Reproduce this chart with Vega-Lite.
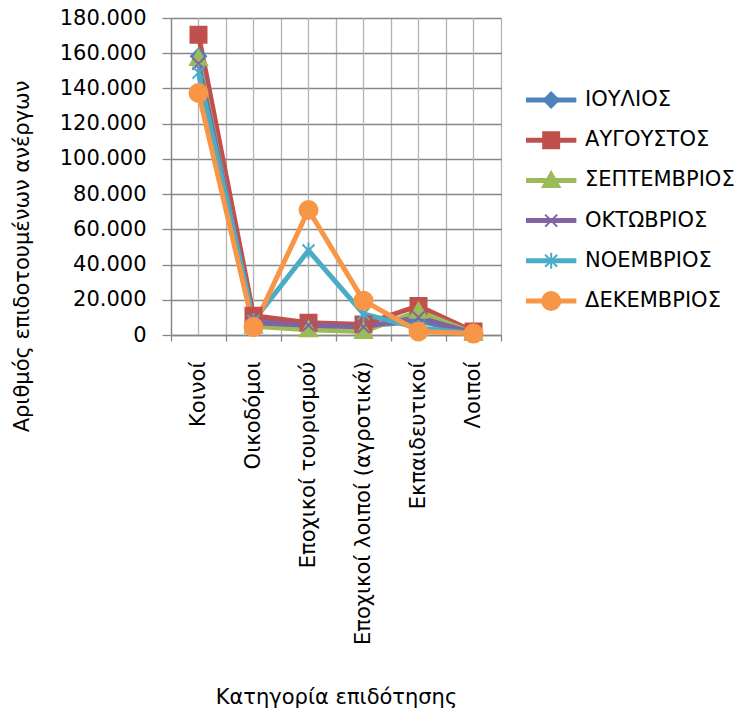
{
  "$schema": "https://vega.github.io/schema/vega-lite/v6.json",
  "background": "white",
  "padding": {"left": 11, "top": 7, "right": 0, "bottom": 0},
  "config": {
    "locale": {"number": {"decimal": ",", "thousands": ".", "grouping": [3], "currency": ["", " €"]}},
    "font": "DejaVu Sans",
    "view": {"stroke": null},
    "concat": {"spacing": 21}
  },
  "datasets": {
    "series": [
      {"category": "Κοινοί", "month": "ΙΟΥΛΙΟΣ", "value": 158300},
      {"category": "Οικοδόμοι", "month": "ΙΟΥΛΙΟΣ", "value": 10000},
      {"category": "Εποχικοί τουρισμού", "month": "ΙΟΥΛΙΟΣ", "value": 6000},
      {"category": "Εποχικοί λοιποί (αγροτικά)", "month": "ΙΟΥΛΙΟΣ", "value": 5000},
      {"category": "Εκπαιδευτικοί", "month": "ΙΟΥΛΙΟΣ", "value": 8000},
      {"category": "Λοιποί", "month": "ΙΟΥΛΙΟΣ", "value": 1000},
      {"category": "Κοινοί", "month": "ΑΥΓΟΥΣΤΟΣ", "value": 170500},
      {"category": "Οικοδόμοι", "month": "ΑΥΓΟΥΣΤΟΣ", "value": 11000},
      {"category": "Εποχικοί τουρισμού", "month": "ΑΥΓΟΥΣΤΟΣ", "value": 7000},
      {"category": "Εποχικοί λοιποί (αγροτικά)", "month": "ΑΥΓΟΥΣΤΟΣ", "value": 6000},
      {"category": "Εκπαιδευτικοί", "month": "ΑΥΓΟΥΣΤΟΣ", "value": 16500},
      {"category": "Λοιποί", "month": "ΑΥΓΟΥΣΤΟΣ", "value": 2000},
      {"category": "Κοινοί", "month": "ΣΕΠΤΕΜΒΡΙΟΣ", "value": 157000},
      {"category": "Οικοδόμοι", "month": "ΣΕΠΤΕΜΒΡΙΟΣ", "value": 5000},
      {"category": "Εποχικοί τουρισμού", "month": "ΣΕΠΤΕΜΒΡΙΟΣ", "value": 3000},
      {"category": "Εποχικοί λοιποί (αγροτικά)", "month": "ΣΕΠΤΕΜΒΡΙΟΣ", "value": 2000},
      {"category": "Εκπαιδευτικοί", "month": "ΣΕΠΤΕΜΒΡΙΟΣ", "value": 13500},
      {"category": "Λοιποί", "month": "ΣΕΠΤΕΜΒΡΙΟΣ", "value": 1000},
      {"category": "Κοινοί", "month": "ΟΚΤΩΒΡΙΟΣ", "value": 154000},
      {"category": "Οικοδόμοι", "month": "ΟΚΤΩΒΡΙΟΣ", "value": 7000},
      {"category": "Εποχικοί τουρισμού", "month": "ΟΚΤΩΒΡΙΟΣ", "value": 5500},
      {"category": "Εποχικοί λοιποί (αγροτικά)", "month": "ΟΚΤΩΒΡΙΟΣ", "value": 4500},
      {"category": "Εκπαιδευτικοί", "month": "ΟΚΤΩΒΡΙΟΣ", "value": 10000},
      {"category": "Λοιποί", "month": "ΟΚΤΩΒΡΙΟΣ", "value": 1000},
      {"category": "Κοινοί", "month": "ΝΟΕΜΒΡΙΟΣ", "value": 149000},
      {"category": "Οικοδόμοι", "month": "ΝΟΕΜΒΡΙΟΣ", "value": 8000},
      {"category": "Εποχικοί τουρισμού", "month": "ΝΟΕΜΒΡΙΟΣ", "value": 48000},
      {"category": "Εποχικοί λοιποί (αγροτικά)", "month": "ΝΟΕΜΒΡΙΟΣ", "value": 12000},
      {"category": "Εκπαιδευτικοί", "month": "ΝΟΕΜΒΡΙΟΣ", "value": 4000},
      {"category": "Λοιποί", "month": "ΝΟΕΜΒΡΙΟΣ", "value": 1000},
      {"category": "Κοινοί", "month": "ΔΕΚΕΜΒΡΙΟΣ", "value": 137400},
      {"category": "Οικοδόμοι", "month": "ΔΕΚΕΜΒΡΙΟΣ", "value": 4500},
      {"category": "Εποχικοί τουρισμού", "month": "ΔΕΚΕΜΒΡΙΟΣ", "value": 71000},
      {"category": "Εποχικοί λοιποί (αγροτικά)", "month": "ΔΕΚΕΜΒΡΙΟΣ", "value": 19500},
      {"category": "Εκπαιδευτικοί", "month": "ΔΕΚΕΜΒΡΙΟΣ", "value": 2000},
      {"category": "Λοιποί", "month": "ΔΕΚΕΜΒΡΙΟΣ", "value": 800}
    ],
    "cats": [
      {"category": "Κοινοί"},
      {"category": "Οικοδόμοι"},
      {"category": "Εποχικοί τουρισμού"},
      {"category": "Εποχικοί λοιποί (αγροτικά)"},
      {"category": "Εκπαιδευτικοί"},
      {"category": "Λοιποί"}
    ],
    "months": [
      {"month": "ΙΟΥΛΙΟΣ"},
      {"month": "ΑΥΓΟΥΣΤΟΣ"},
      {"month": "ΣΕΠΤΕΜΒΡΙΟΣ"},
      {"month": "ΟΚΤΩΒΡΙΟΣ"},
      {"month": "ΝΟΕΜΒΡΙΟΣ"},
      {"month": "ΔΕΚΕΜΒΡΙΟΣ"}
    ]
  },
  "hconcat": [
    {
      "width": 330,
      "height": 317,
      "layer": [
        {
          "data": {"name": "cats"},
          "mark": {"type": "rule", "color": "#b3b3b3", "strokeWidth": 1.3},
          "encoding": {
            "x": {"field": "category", "type": "nominal",
              "sort": ["Κοινοί", "Οικοδόμοι", "Εποχικοί τουρισμού", "Εποχικοί λοιποί (αγροτικά)", "Εκπαιδευτικοί", "Λοιποί"],
              "scale": {"type": "band", "paddingInner": 0, "paddingOuter": 0},
              "axis": {"title": "Κατηγορία επιδότησης", "labelAngle": -90, "tickBand": "extent", "grid": true, "gridColor": "#b3b3b3", "gridWidth": 1.3, "domainColor": "#868686", "domainWidth": 1.3, "tickColor": "#868686", "tickSize": 6, "tickWidth": 1.3, "labelFontSize": 21, "labelPadding": 20, "labelLimit": 400, "labelOverlap": false, "labelColor": "black", "maxExtent": 400, "titleFontSize": 21, "titleFontWeight": "normal", "titleColor": "black", "titlePadding": 42}}
          }
        },
        {
          "data": {"name": "series"},
          "mark": {"type": "line", "strokeWidth": 5, "strokeJoin": "round"},
          "encoding": {
            "x": {"field": "category", "type": "nominal",
              "sort": ["Κοινοί", "Οικοδόμοι", "Εποχικοί τουρισμού", "Εποχικοί λοιποί (αγροτικά)", "Εκπαιδευτικοί", "Λοιποί"],
              "scale": {"type": "band", "paddingInner": 0, "paddingOuter": 0},
              "axis": {"title": "Κατηγορία επιδότησης", "labelAngle": -90, "tickBand": "extent", "grid": true, "gridColor": "#b3b3b3", "gridWidth": 1.3, "domainColor": "#868686", "domainWidth": 1.3, "tickColor": "#868686", "tickSize": 6, "tickWidth": 1.3, "labelFontSize": 21, "labelPadding": 20, "labelLimit": 400, "labelOverlap": false, "labelColor": "black", "maxExtent": 400, "titleFontSize": 21, "titleFontWeight": "normal", "titleColor": "black", "titlePadding": 42}},
            "y": {"field": "value", "type": "quantitative",
              "scale": {"domain": [0, 180000], "nice": false},
              "axis": {"values": [0, 20000, 40000, 60000, 80000, 100000, 120000, 140000, 160000, 180000], "format": ",d", "title": "Αριθμός επιδοτουμένων ανέργων", "grid": true, "gridColor": "#868686", "gridWidth": 1.3, "domainColor": "#868686", "domainWidth": 1.3, "tickColor": "#868686", "tickSize": 9, "tickWidth": 1.3, "labelFontSize": 21, "labelPadding": 16, "labelOverlap": false, "labelFlush": false, "labelColor": "black", "titleFontSize": 21, "titleFontWeight": "normal", "titleColor": "black", "titlePadding": 27, "titleY": 238}},
            "color": {"field": "month", "type": "nominal",
              "scale": {"domain": ["ΙΟΥΛΙΟΣ", "ΑΥΓΟΥΣΤΟΣ", "ΣΕΠΤΕΜΒΡΙΟΣ", "ΟΚΤΩΒΡΙΟΣ", "ΝΟΕΜΒΡΙΟΣ", "ΔΕΚΕΜΒΡΙΟΣ"], "range": ["#4F81BD", "#C0504D", "#9BBB59", "#8064A2", "#4BACC6", "#F79646"]},
              "legend": null}
          }
        },
        {
          "data": {"name": "series"},
          "mark": {"type": "point", "filled": true, "opacity": 1, "size": 400, "strokeWidth": 2},
          "encoding": {
            "x": {"field": "category", "type": "nominal",
              "sort": ["Κοινοί", "Οικοδόμοι", "Εποχικοί τουρισμού", "Εποχικοί λοιποί (αγροτικά)", "Εκπαιδευτικοί", "Λοιποί"],
              "scale": {"type": "band", "paddingInner": 0, "paddingOuter": 0},
              "axis": {"title": "Κατηγορία επιδότησης", "labelAngle": -90, "tickBand": "extent", "grid": true, "gridColor": "#b3b3b3", "gridWidth": 1.3, "domainColor": "#868686", "domainWidth": 1.3, "tickColor": "#868686", "tickSize": 6, "tickWidth": 1.3, "labelFontSize": 21, "labelPadding": 20, "labelLimit": 400, "labelOverlap": false, "labelColor": "black", "maxExtent": 400, "titleFontSize": 21, "titleFontWeight": "normal", "titleColor": "black", "titlePadding": 42}},
            "y": {"field": "value", "type": "quantitative",
              "scale": {"domain": [0, 180000], "nice": false},
              "axis": {"values": [0, 20000, 40000, 60000, 80000, 100000, 120000, 140000, 160000, 180000], "format": ",d", "title": "Αριθμός επιδοτουμένων ανέργων", "grid": true, "gridColor": "#868686", "gridWidth": 1.3, "domainColor": "#868686", "domainWidth": 1.3, "tickColor": "#868686", "tickSize": 9, "tickWidth": 1.3, "labelFontSize": 21, "labelPadding": 16, "labelOverlap": false, "labelFlush": false, "labelColor": "black", "titleFontSize": 21, "titleFontWeight": "normal", "titleColor": "black", "titlePadding": 27, "titleY": 238}},
            "fill": {"field": "month", "type": "nominal",
              "scale": {"domain": ["ΙΟΥΛΙΟΣ", "ΑΥΓΟΥΣΤΟΣ", "ΣΕΠΤΕΜΒΡΙΟΣ", "ΟΚΤΩΒΡΙΟΣ", "ΝΟΕΜΒΡΙΟΣ", "ΔΕΚΕΜΒΡΙΟΣ"], "range": ["#4F81BD", "#C0504D", "#9BBB59", "#8064A2", "#4BACC6", "#F79646"]},
              "legend": null},
            "stroke": {"field": "month", "type": "nominal",
              "scale": {"domain": ["ΙΟΥΛΙΟΣ", "ΑΥΓΟΥΣΤΟΣ", "ΣΕΠΤΕΜΒΡΙΟΣ", "ΟΚΤΩΒΡΙΟΣ", "ΝΟΕΜΒΡΙΟΣ", "ΔΕΚΕΜΒΡΙΟΣ"], "range": ["#4F81BD", "#C0504D", "#9BBB59", "#8064A2", "#4BACC6", "#F79646"]},
              "legend": null},
            "shape": {"field": "month", "type": "nominal",
              "scale": {"domain": ["ΙΟΥΛΙΟΣ", "ΑΥΓΟΥΣΤΟΣ", "ΣΕΠΤΕΜΒΡΙΟΣ", "ΟΚΤΩΒΡΙΟΣ", "ΝΟΕΜΒΡΙΟΣ", "ΔΕΚΕΜΒΡΙΟΣ"], "range": ["M0,-0.75L0.75,0L0,0.75L-0.75,0Z", "M-0.8,-0.8L0.8,-0.8L0.8,0.8L-0.8,0.8Z", "M0,-0.85L0.85,0.65L-0.85,0.65Z", "M-0.6,-0.6L0.6,0.6M-0.6,0.6L0.6,-0.6", "M-0.6,-0.6L0.6,0.6M-0.6,0.6L0.6,-0.6M0,-0.8L0,0.8", "M-0.9,0A0.9,0.9,0,1,1,0.9,0A0.9,0.9,0,1,1,-0.9,0Z"]},
              "legend": null}
          }
        }
      ]
    },
    {
      "width": 213,
      "height": 357,
      "data": {"name": "months"},
      "encoding": {
        "y": {"field": "month", "type": "nominal", "sort": ["ΙΟΥΛΙΟΣ", "ΑΥΓΟΥΣΤΟΣ", "ΣΕΠΤΕΜΒΡΙΟΣ", "ΟΚΤΩΒΡΙΟΣ", "ΝΟΕΜΒΡΙΟΣ", "ΔΕΚΕΜΒΡΙΟΣ"], "scale": {"type": "point", "padding": 0, "range": [82, 283]}, "axis": null}
      },
      "layer": [
        {
          "mark": {"type": "rule", "strokeWidth": 5},
          "encoding": {
            "x": {"datum": 0, "type": "quantitative", "scale": {"domain": [0, 213]}, "axis": null},
            "x2": {"datum": 52},
            "color": {"field": "month", "type": "nominal",
              "scale": {"domain": ["ΙΟΥΛΙΟΣ", "ΑΥΓΟΥΣΤΟΣ", "ΣΕΠΤΕΜΒΡΙΟΣ", "ΟΚΤΩΒΡΙΟΣ", "ΝΟΕΜΒΡΙΟΣ", "ΔΕΚΕΜΒΡΙΟΣ"], "range": ["#4F81BD", "#C0504D", "#9BBB59", "#8064A2", "#4BACC6", "#F79646"]},
              "legend": null}
          }
        },
        {
          "mark": {"type": "point", "filled": true, "opacity": 1, "size": 400, "strokeWidth": 2},
          "encoding": {
            "x": {"datum": 26, "type": "quantitative"},
            "fill": {"field": "month", "type": "nominal",
              "scale": {"domain": ["ΙΟΥΛΙΟΣ", "ΑΥΓΟΥΣΤΟΣ", "ΣΕΠΤΕΜΒΡΙΟΣ", "ΟΚΤΩΒΡΙΟΣ", "ΝΟΕΜΒΡΙΟΣ", "ΔΕΚΕΜΒΡΙΟΣ"], "range": ["#4F81BD", "#C0504D", "#9BBB59", "#8064A2", "#4BACC6", "#F79646"]},
              "legend": null},
            "stroke": {"field": "month", "type": "nominal",
              "scale": {"domain": ["ΙΟΥΛΙΟΣ", "ΑΥΓΟΥΣΤΟΣ", "ΣΕΠΤΕΜΒΡΙΟΣ", "ΟΚΤΩΒΡΙΟΣ", "ΝΟΕΜΒΡΙΟΣ", "ΔΕΚΕΜΒΡΙΟΣ"], "range": ["#4F81BD", "#C0504D", "#9BBB59", "#8064A2", "#4BACC6", "#F79646"]},
              "legend": null},
            "shape": {"field": "month", "type": "nominal",
              "scale": {"domain": ["ΙΟΥΛΙΟΣ", "ΑΥΓΟΥΣΤΟΣ", "ΣΕΠΤΕΜΒΡΙΟΣ", "ΟΚΤΩΒΡΙΟΣ", "ΝΟΕΜΒΡΙΟΣ", "ΔΕΚΕΜΒΡΙΟΣ"], "range": ["M0,-0.75L0.75,0L0,0.75L-0.75,0Z", "M-0.8,-0.8L0.8,-0.8L0.8,0.8L-0.8,0.8Z", "M0,-0.85L0.85,0.65L-0.85,0.65Z", "M-0.6,-0.6L0.6,0.6M-0.6,0.6L0.6,-0.6", "M-0.6,-0.6L0.6,0.6M-0.6,0.6L0.6,-0.6M0,-0.8L0,0.8", "M-0.9,0A0.9,0.9,0,1,1,0.9,0A0.9,0.9,0,1,1,-0.9,0Z"]},
              "legend": null}
          }
        },
        {
          "mark": {"type": "text", "align": "left", "baseline": "middle", "fontSize": 21, "color": "black"},
          "encoding": {
            "x": {"datum": 61, "type": "quantitative"},
            "text": {"field": "month", "type": "nominal"}
          }
        }
      ]
    }
  ]
}
